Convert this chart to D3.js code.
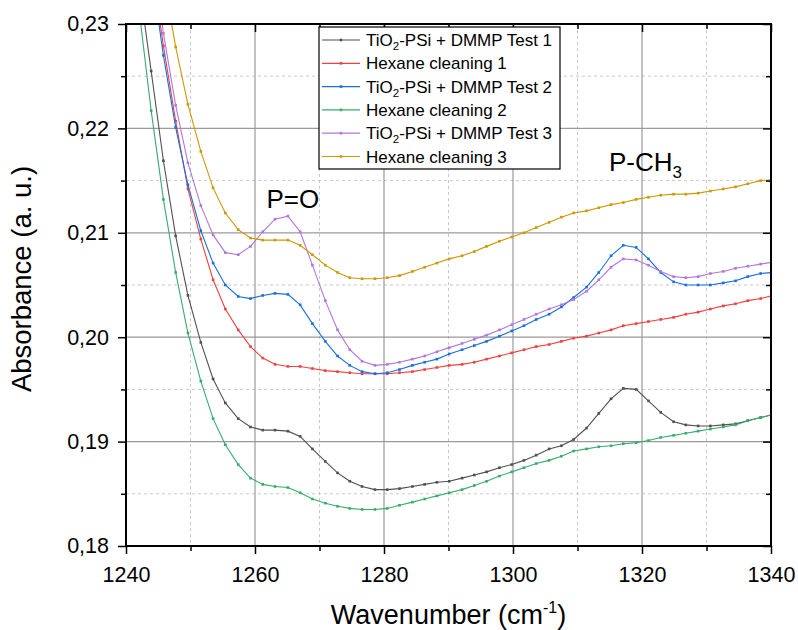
<!DOCTYPE html>
<html>
<head>
<meta charset="utf-8">
<script src="https://cdn.jsdelivr.net/npm/d3@7"></script>
<style>
  html, body { margin: 0; padding: 0; background: #fff; }
  svg { display: block; font-family: "Liberation Sans", Arial, sans-serif; }
</style>
</head>
<body>
<svg id="chart" width="798" height="630"></svg>
<script>
// ---- Data ----
const wavenumbers = [1240.0, 1241.9, 1243.9, 1245.8, 1247.7, 1249.6, 1251.6, 1253.5, 1255.4, 1257.4,
  1259.3, 1261.2, 1263.1, 1265.1, 1267.0, 1268.9, 1270.9, 1272.8, 1274.7, 1276.6,
  1278.6, 1280.5, 1282.4, 1284.4, 1286.3, 1288.2, 1290.1, 1292.1, 1294.0, 1295.9,
  1297.9, 1299.8, 1301.7, 1303.6, 1305.6, 1307.5, 1309.4, 1311.4, 1313.3, 1315.2,
  1317.1, 1319.1, 1321.0, 1322.9, 1324.9, 1326.8, 1328.7, 1330.6, 1332.6, 1334.5,
  1336.4, 1338.4, 1340.3];

const test1 = [0.2460, 0.2345, 0.2255, 0.2169, 0.2097, 0.2040, 0.1995, 0.1960, 0.1937, 0.1922,
  0.1914, 0.1911, 0.1911, 0.1910, 0.1905, 0.1893, 0.1881, 0.1870, 0.1862, 0.1857,
  0.1854, 0.1854, 0.1855, 0.1857, 0.1859, 0.1861, 0.1862, 0.1865, 0.1868, 0.1871,
  0.1875, 0.1878, 0.1882, 0.1887, 0.1893, 0.1896, 0.1902, 0.1913, 0.1927, 0.1941,
  0.1951, 0.1950, 0.1939, 0.1928, 0.1919, 0.1916, 0.1915, 0.1915, 0.1916, 0.1917,
  0.1920, 0.1923, 0.1926];

const clean1 = [0.2540, 0.2450, 0.2360, 0.2279, 0.2207, 0.2142, 0.2094, 0.2055, 0.2027, 0.2007,
  0.1991, 0.1980, 0.1974, 0.1972, 0.1972, 0.1970, 0.1968, 0.1967, 0.1966, 0.1965,
  0.1965, 0.1965, 0.1966, 0.1967, 0.1969, 0.1971, 0.1973, 0.1974, 0.1976, 0.1979,
  0.1982, 0.1985, 0.1988, 0.1991, 0.1993, 0.1996, 0.1999, 0.2001, 0.2004, 0.2007,
  0.2011, 0.2013, 0.2015, 0.2017, 0.2019, 0.2022, 0.2024, 0.2027, 0.2030, 0.2032,
  0.2035, 0.2037, 0.2040];

const test2 = [0.2530, 0.2440, 0.2352, 0.2270, 0.2201, 0.2146, 0.2102, 0.2071, 0.2050, 0.2039,
  0.2037, 0.2040, 0.2042, 0.2041, 0.2031, 0.2013, 0.1996, 0.1982, 0.1973, 0.1967,
  0.1965, 0.1966, 0.1969, 0.1973, 0.1976, 0.1979, 0.1984, 0.1988, 0.1992, 0.1996,
  0.2001, 0.2006, 0.2011, 0.2017, 0.2022, 0.2029, 0.2038, 0.2048, 0.2062, 0.2078,
  0.2088, 0.2086, 0.2075, 0.2062, 0.2053, 0.2050, 0.2050, 0.2050, 0.2052, 0.2054,
  0.2058, 0.2061, 0.2062];

const clean2 = [0.2440, 0.2320, 0.2217, 0.2132, 0.2062, 0.2004, 0.1958, 0.1922, 0.1897, 0.1878,
  0.1865, 0.1859, 0.1857, 0.1856, 0.1851, 0.1845, 0.1841, 0.1838, 0.1836, 0.1835,
  0.1835, 0.1836, 0.1839, 0.1842, 0.1845, 0.1848, 0.1851, 0.1854, 0.1858, 0.1862,
  0.1867, 0.1871, 0.1875, 0.1879, 0.1882, 0.1886, 0.1891, 0.1893, 0.1895, 0.1896,
  0.1898, 0.1899, 0.1901, 0.1904, 0.1906, 0.1908, 0.1910, 0.1912, 0.1914, 0.1916,
  0.1920, 0.1923, 0.1926];

const test3 = [0.2560, 0.2470, 0.2378, 0.2291, 0.2222, 0.2167, 0.2126, 0.2098, 0.2081, 0.2079,
  0.2087, 0.2101, 0.2113, 0.2116, 0.2101, 0.2069, 0.2035, 0.2007, 0.1988, 0.1977,
  0.1973, 0.1974, 0.1976, 0.1979, 0.1982, 0.1986, 0.1990, 0.1994, 0.1998, 0.2002,
  0.2007, 0.2012, 0.2017, 0.2022, 0.2027, 0.2031, 0.2036, 0.2044, 0.2055, 0.2067,
  0.2075, 0.2074, 0.2069, 0.2063, 0.2058, 0.2057, 0.2058, 0.2061, 0.2063, 0.2066,
  0.2068, 0.2070, 0.2072];

const clean3 = [0.2530, 0.2470, 0.2420, 0.2345, 0.2278, 0.2223, 0.2178, 0.2143, 0.2119, 0.2103,
  0.2095, 0.2093, 0.2093, 0.2093, 0.2088, 0.2079, 0.2069, 0.2062, 0.2057, 0.2056,
  0.2056, 0.2057, 0.2059, 0.2063, 0.2067, 0.2071, 0.2075, 0.2078, 0.2082, 0.2087,
  0.2092, 0.2096, 0.2100, 0.2105, 0.2110, 0.2115, 0.2119, 0.2121, 0.2124, 0.2127,
  0.2129, 0.2132, 0.2134, 0.2136, 0.2137, 0.2137, 0.2138, 0.2140, 0.2142, 0.2144,
  0.2147, 0.2150, 0.2151];

const seriesNames = ["TiO2-PSi + DMMP Test 1", "Hexane cleaning 1", "TiO2-PSi + DMMP Test 2",
  "Hexane cleaning 2", "TiO2-PSi + DMMP Test 3", "Hexane cleaning 3"];
const seriesValues = [test1, clean1, test2, clean2, test3, clean3];
const seriesColors = ["#515151", "#F14040", "#1A6FDF", "#37AD6B", "#B177DE", "#CC9900"];

const xTicks = [1240, 1260, 1280, 1300, 1320, 1340];
const xMinorTicks = [1250, 1270, 1290, 1310, 1330];
const yTicks = [0.18, 0.19, 0.20, 0.21, 0.22, 0.23];
const yMinorTicks = [0.185, 0.195, 0.205, 0.215, 0.225];

// ---- Layout ----
const svg = d3.select("#chart");
const pL = 126, pR = 771, pT = 24, pB = 546;

const x = d3.scaleLinear().domain([1240, 1340]).range([pL, pR]);
const y = d3.scaleLinear().domain([0.18, 0.23]).range([pB, pT]);

// Grid
const grid = svg.append("g");
grid.selectAll(".gxm").data(xMinorTicks).join("line")
  .attr("x1", d => x(d)).attr("x2", d => x(d)).attr("y1", pT).attr("y2", pB)
  .attr("stroke", "#c8c8c8").attr("stroke-width", 1).attr("stroke-dasharray", "3,3");
grid.selectAll(".gym").data(yMinorTicks).join("line")
  .attr("x1", pL).attr("x2", pR).attr("y1", d => y(d)).attr("y2", d => y(d))
  .attr("stroke", "#c8c8c8").attr("stroke-width", 1).attr("stroke-dasharray", "3,3");
grid.selectAll(".gx").data(xTicks.slice(1, -1)).join("line")
  .attr("x1", d => x(d)).attr("x2", d => x(d)).attr("y1", pT).attr("y2", pB)
  .attr("stroke", "#9a9a9a").attr("stroke-width", 1.2);
grid.selectAll(".gy").data(yTicks.slice(1, -1)).join("line")
  .attr("x1", pL).attr("x2", pR).attr("y1", d => y(d)).attr("y2", d => y(d))
  .attr("stroke", "#9a9a9a").attr("stroke-width", 1.2);

// Clip
svg.append("defs").append("clipPath").attr("id", "plotclip")
  .append("rect").attr("x", pL).attr("y", pT).attr("width", pR - pL).attr("height", pB - pT);

const plot = svg.append("g").attr("clip-path", "url(#plotclip)");
const line = d3.line().x((d, i) => x(wavenumbers[i])).y(d => y(d));

seriesValues.forEach((vals, si) => {
  const g = plot.append("g");
  g.append("path").datum(vals)
    .attr("fill", "none").attr("stroke", seriesColors[si]).attr("stroke-width", 1.1)
    .attr("d", line);
  g.selectAll("rect").data(vals).join("rect")
    .attr("x", (d, i) => x(wavenumbers[i]) - 1.3)
    .attr("y", d => y(d) - 1.3)
    .attr("width", 2.6).attr("height", 2.6)
    .attr("fill", seriesColors[si]);
});

// Axes
const axisColor = "#000";
const xBottom = d3.axisBottom(x).tickValues(xTicks).tickSize(8).tickFormat(d3.format("d"));
const gxb = svg.append("g").attr("transform", `translate(0,${pB})`).call(xBottom);
gxb.select(".domain").remove();
gxb.selectAll(".tick line").attr("stroke", axisColor).attr("stroke-width", 1.5);
gxb.selectAll(".tick text").attr("font-size", 21.5).attr("fill", "#000").attr("y", 35.5).attr("dy", 0);
svg.append("g").attr("transform", `translate(0,${pB})`)
  .call(d3.axisBottom(x).tickValues(xMinorTicks).tickSize(5).tickFormat(""))
  .call(g => g.select(".domain").remove())
  .selectAll("line").attr("stroke", axisColor).attr("stroke-width", 1.5);

const xTopAxis = d3.axisBottom(x).tickValues(xTicks).tickSize(8).tickFormat("");
svg.append("g").attr("transform", `translate(0,${pT})`).call(xTopAxis)
  .call(g => g.select(".domain").remove())
  .selectAll("line").attr("stroke", axisColor).attr("stroke-width", 1.5);
svg.append("g").attr("transform", `translate(0,${pT})`)
  .call(d3.axisBottom(x).tickValues(xMinorTicks).tickSize(5).tickFormat(""))
  .call(g => g.select(".domain").remove())
  .selectAll("line").attr("stroke", axisColor).attr("stroke-width", 1.5);

const commaFmt = d => d3.format(".2f")(d).replace(".", ",");
const yLeft = d3.axisLeft(y).tickValues(yTicks).tickSize(8).tickFormat(commaFmt);
const gyl = svg.append("g").attr("transform", `translate(${pL},0)`).call(yLeft);
gyl.select(".domain").remove();
gyl.selectAll(".tick line").attr("stroke", axisColor).attr("stroke-width", 1.5);
gyl.selectAll(".tick text").attr("font-size", 21.5).attr("fill", "#000").attr("x", -17);
svg.append("g").attr("transform", `translate(${pL},0)`)
  .call(d3.axisLeft(y).tickValues(yMinorTicks).tickSize(5).tickFormat(""))
  .call(g => g.select(".domain").remove())
  .selectAll("line").attr("stroke", axisColor).attr("stroke-width", 1.5);

svg.append("g").attr("transform", `translate(${pR},0)`)
  .call(d3.axisLeft(y).tickValues(yTicks).tickSize(8).tickFormat(""))
  .call(g => g.select(".domain").remove())
  .selectAll("line").attr("stroke", axisColor).attr("stroke-width", 1.5);
svg.append("g").attr("transform", `translate(${pR},0)`)
  .call(d3.axisLeft(y).tickValues(yMinorTicks).tickSize(5).tickFormat(""))
  .call(g => g.select(".domain").remove())
  .selectAll("line").attr("stroke", axisColor).attr("stroke-width", 1.5);

// Frame
svg.append("rect").attr("x", pL).attr("y", pT).attr("width", pR - pL).attr("height", pB - pT)
  .attr("fill", "none").attr("stroke", "#000").attr("stroke-width", 2);

// Axis titles
const xt = svg.append("text").attr("x", 448.5).attr("y", 624)
  .attr("text-anchor", "middle").attr("font-size", 27).attr("fill", "#000");
xt.append("tspan").text("Wavenumber (cm");
xt.append("tspan").attr("font-size", 16).attr("dy", -11).text("-1");
xt.append("tspan").attr("dy", 11).text(")");

svg.append("text").attr("transform", `translate(31,279) rotate(-90)`)
  .attr("text-anchor", "middle").attr("font-size", 27.5).attr("fill", "#000")
  .text("Absorbance (a. u.)");

// Annotations
svg.append("text").attr("x", 266.5).attr("y", 208).attr("font-size", 26).attr("fill", "#000").text("P=O");
const pch = svg.append("text").attr("x", 609).attr("y", 171).attr("font-size", 26).attr("fill", "#000");
pch.append("tspan").text("P-CH");
pch.append("tspan").attr("font-size", 17).attr("dy", 7).text("3");

// Legend
const lg = svg.append("g");
const lgX = 319, lgY = 27, lgW = 241, lgH = 142, rowH = 23.3, firstRow = 40;
lg.append("rect").attr("x", lgX).attr("y", lgY).attr("width", lgW).attr("height", lgH)
  .attr("fill", "#fff").attr("stroke", "#000").attr("stroke-width", 1.2);
seriesNames.forEach((name, i) => {
  const cy = firstRow + i * rowH;
  lg.append("line").attr("x1", lgX + 3).attr("x2", lgX + 41).attr("y1", cy).attr("y2", cy)
    .attr("stroke", seriesColors[i]).attr("stroke-width", 1.2);
  lg.append("rect").attr("x", lgX + 22 - 1.3).attr("y", cy - 1.3).attr("width", 2.6).attr("height", 2.6)
    .attr("fill", seriesColors[i]);
  const t = lg.append("text").attr("x", lgX + 47).attr("y", cy + 6).attr("font-size", 17).attr("fill", "#000");
  if (name.startsWith("TiO2")) {
    t.append("tspan").text("TiO");
    t.append("tspan").attr("font-size", 11.5).attr("dy", 4).text("2");
    t.append("tspan").attr("dy", -4).text(name.slice(4));
  } else {
    t.text(name);
  }
});
</script>
</body>
</html>
